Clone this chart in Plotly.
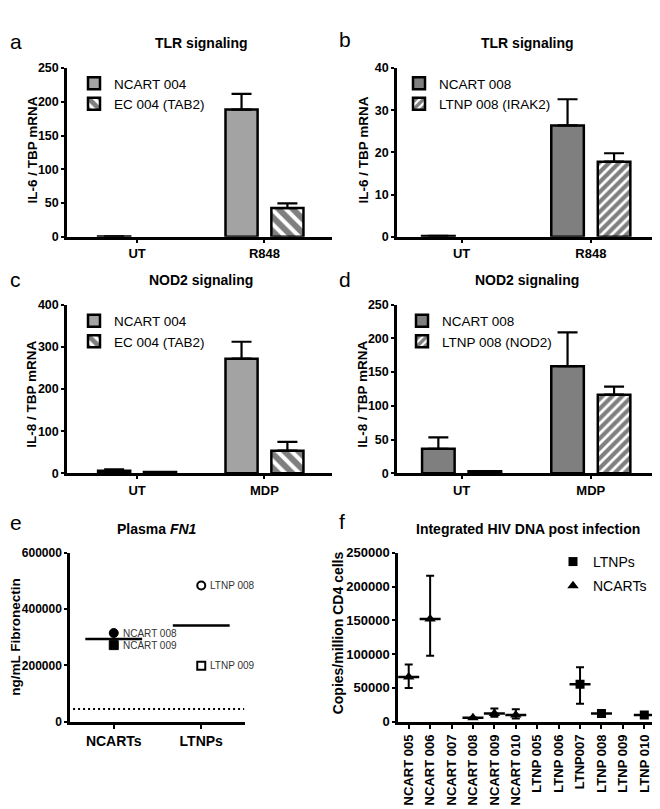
import numpy as np
import plotly.graph_objects as go

W, H = 660, 809
OFF = 8  # page body margin offset of the figure in the browser
FONT = "Liberation Sans, Arial, sans-serif"

# ---------------- data ----------------
# Panel a: TLR signaling, IL-6
a_cats = ["UT", "R848"]
a_ncart = [0.5, 188.5]
a_ncart_err = [0.0, 23.2]
a_ec = [None, 42.6]
a_ec_err = [0.0, 6.8]

# Panel b: TLR signaling, IL-6
b_cats = ["UT", "R848"]
b_ncart = [0.2, 26.4]
b_ncart_err = [0.0, 6.2]
b_ltnp = [None, 17.8]
b_ltnp_err = [0.0, 2.0]

# Panel c: NOD2 signaling, IL-8
c_cats = ["UT", "MDP"]
c_ncart = [6.2, 271.8]
c_ncart_err = [3.0, 40.0]
c_ec = [3.1, 53.6]
c_ec_err = [0.0, 21.0]

# Panel d: NOD2 signaling, IL-8
d_cats = ["UT", "MDP"]
d_ncart = [36.4, 158.7]
d_ncart_err = [17.0, 50.0]
d_ltnp = [3.0, 116.5]
d_ltnp_err = [0.0, 12.0]

# Panel e: Plasma FN1
e_cats = ["NCARTs", "LTNPs"]
e_ncart_names = ["NCART 008", "NCART 009"]
e_ncart_vals = [315000, 272000]
e_ltnp_names = ["LTNP 008", "LTNP 009"]
e_ltnp_vals = [484000, 199000]
e_detection_limit = 45000

# Panel f: Integrated HIV DNA post infection
f_cats = ["NCART 005", "NCART 006", "NCART 007", "NCART 008", "NCART 009", "NCART 010",
          "LTNP 005", "LTNP 006", "LTNP007", "LTNP 008", "LTNP 009", "LTNP 010"]
f_ncart_vals = [66100, 152000, None, 5800, 12000, 9700]
f_ncart_up = [18400, 64200, None, 0, 7300, 8600]
f_ncart_dn = [16400, 54500, None, 0, 4800, 4900]
f_ltnp_vals = [None, None, 55500, 12000, None, 9700]
f_ltnp_up = [None, None, 25100, 0, None, 0]
f_ltnp_dn = [None, None, 29000, 0, None, 0]


def fx(p):
    return (p - OFF) / W


def fy(p):
    return 1 - (p - OFF) / H


fig = go.Figure()

LIGHT = "#a3a3a3"
DARK = "#7f7f7f"


def add_bars(xa, ya, cats, v1, e1, n1, c1, v2, e2, n2, shape, psize, leg):
    xs = list(range(len(cats)))
    fig.add_trace(go.Bar(
        x=xs, y=v1, name=n1, xaxis=xa, yaxis=ya, legend=leg,
        marker=dict(color=c1, line=dict(color="black", width=2.5)),
        error_y=dict(type="data", symmetric=False, array=e1, arrayminus=[0] * len(e1),
                     color="black", thickness=2.2, width=10),
    ))
    fig.add_trace(go.Bar(
        x=xs, y=v2, name=n2, xaxis=xa, yaxis=ya, legend=leg,
        marker=dict(color="white", line=dict(color="black", width=2.5),
                    pattern=dict(shape=shape, size=psize, solidity=0.6,
                                 fgcolor="black", bgcolor="white")),
        error_y=dict(type="data", symmetric=False, array=e2, arrayminus=[0] * len(e2),
                     color="black", thickness=2.2, width=10),
    ))


add_bars("x", "y", a_cats, a_ncart, a_ncart_err, "NCART 004", LIGHT,
         a_ec, a_ec_err, "EC 004 (TAB2)", "\\", 10, "legend")
add_bars("x2", "y2", b_cats, b_ncart, b_ncart_err, "NCART 008", DARK,
         b_ltnp, b_ltnp_err, "LTNP 008 (IRAK2)", "/", 7, "legend2")
add_bars("x3", "y3", c_cats, c_ncart, c_ncart_err, "NCART 004", LIGHT,
         c_ec, c_ec_err, "EC 004 (TAB2)", "\\", 10, "legend3")
add_bars("x4", "y4", d_cats, d_ncart, d_ncart_err, "NCART 008", DARK,
         d_ltnp, d_ltnp_err, "LTNP 008 (NOD2)", "/", 7, "legend4")

# ---- panel e ----
e_sym_ncart = ["circle", "square"]
e_sym_ltnp = ["circle-open", "square-open"]
for name, val, sym in zip(e_ncart_names, e_ncart_vals, e_sym_ncart):
    fig.add_trace(go.Scatter(x=[0], y=[val], mode="markers", xaxis="x5", yaxis="y5",
                             showlegend=False,
                             marker=dict(symbol=sym, size=9, color="black",
                                         line=dict(color="black", width=1))))
for name, val, sym in zip(e_ltnp_names, e_ltnp_vals, e_sym_ltnp):
    fig.add_trace(go.Scatter(x=[1], y=[val], mode="markers", xaxis="x5", yaxis="y5",
                             showlegend=False,
                             marker=dict(symbol=sym, size=8, color="black",
                                         line=dict(color="black", width=2))))
half = 0.325
for i, vals in enumerate([e_ncart_vals, e_ltnp_vals]):
    m = float(np.mean(vals))
    fig.add_trace(go.Scatter(x=[i - half, i + half], y=[m, m], mode="lines",
                             xaxis="x5", yaxis="y5", showlegend=False,
                             line=dict(color="black", width=2.4)))
fig.add_trace(go.Scatter(x=[-0.465, 1.49], y=[e_detection_limit] * 2, mode="lines",
                         xaxis="x5", yaxis="y5", showlegend=False,
                         line=dict(color="black", width=2, dash="2px,3px")))

# ---- panel f ----
ncart_x = list(range(0, 6))
ltnp_x = list(range(6, 12))
fig.add_trace(go.Scatter(
    x=ltnp_x, y=f_ltnp_vals, mode="markers", name="LTNPs", xaxis="x6", yaxis="y6",
    legend="legend5", legendgroup="l", legendrank=1,
    marker=dict(symbol="square", size=9, color="black"),
    error_y=dict(type="data", symmetric=False, array=f_ltnp_up, arrayminus=f_ltnp_dn,
                 color="black", thickness=2, width=4)))
fig.add_trace(go.Scatter(
    x=ncart_x, y=f_ncart_vals, mode="markers", name="NCARTs", xaxis="x6", yaxis="y6",
    legend="legend5", legendgroup="n", legendrank=2,
    marker=dict(symbol="triangle-up", size=10, color="black"),
    error_y=dict(type="data", symmetric=False, array=f_ncart_up, arrayminus=f_ncart_dn,
                 color="black", thickness=2, width=4)))
fig.add_trace(go.Scatter(
    x=ncart_x + ltnp_x, y=f_ncart_vals + f_ltnp_vals, mode="markers", showlegend=False,
    xaxis="x6", yaxis="y6",
    marker=dict(symbol="line-ew", size=15, color="black", line=dict(color="black", width=2.5))))


# ---------------- axes ----------------
def yax(dom_top, dom_bot, x_anchor, rng, dtick, fsize=12.5):
    return dict(domain=[fy(dom_bot), fy(dom_top)], anchor=x_anchor, range=rng,
                tickmode="linear", tick0=0, dtick=dtick, tickformat="d",
                exponentformat="none",
                showline=True, linewidth=2.5, linecolor="black", mirror=False,
                ticks="outside", ticklen=3, tickwidth=2, tickcolor="black",
                showgrid=False, zeroline=False,
                tickfont=dict(family=FONT, size=fsize, color="black", weight="bold"))


def xax(left, right, y_anchor, rng, labels, ticklen=3, angle=0, fsize=13):
    return dict(domain=[fx(left), fx(right)], anchor=y_anchor, range=rng,
                tickmode="array", tickvals=list(range(len(labels))), ticktext=labels,
                showline=True, linewidth=2.5, linecolor="black",
                ticks="outside", ticklen=ticklen, tickwidth=2, tickcolor="black",
                showgrid=False, zeroline=False, tickangle=angle,
                tickfont=dict(family=FONT, size=fsize, color="black", weight="bold"))


layout = dict(
    width=W, height=H, margin=dict(l=0, r=0, t=0, b=0),
    paper_bgcolor="white", plot_bgcolor="white",
    barmode="group", bargap=0.28, bargroupgap=0.3,
    font=dict(family=FONT, color="black"),
    xaxis=xax(67, 332, "y", [-0.55, 1.53], a_cats),
    yaxis=yax(62, 234, "x", [0, 250], 50),
    xaxis2=xax(397, 658, "y2", [-0.5, 1.52], b_cats),
    yaxis2=yax(62, 234, "x2", [0, 40], 10),
    xaxis3=xax(67, 332, "y3", [-0.55, 1.53], c_cats),
    yaxis3=yax(303, 475, "x3", [0, 400], 100),
    xaxis4=xax(397, 658, "y4", [-0.5, 1.52], d_cats),
    yaxis4=yax(303, 475, "x4", [0, 250], 50),
    xaxis5=xax(70, 245, "y5", [-0.5, 1.5], e_cats, ticklen=5, fsize=14),
    yaxis5=yax(556, 728, "x5", [0, 600000], 200000, fsize=12),
    xaxis6=xax(398, 655, "y6", [-0.5, 11.5], f_cats, ticklen=5, angle=-90, fsize=13),
    yaxis6=yax(556, 728, "x6", [0, 250000], 50000, fsize=13),
)

leg_common = dict(xanchor="left", yanchor="top", bgcolor="rgba(0,0,0,0)",
                  font=dict(family=FONT, size=13.5, color="black"),
                  tracegroupgap=0, itemclick=False)
layout["legend"] = dict(x=fx(74), y=fy(62), **leg_common)
layout["legend2"] = dict(x=fx(399), y=fy(62), **leg_common)
layout["legend3"] = dict(x=fx(74), y=fy(304), **leg_common)
layout["legend4"] = dict(x=fx(402), y=fy(304), **leg_common)
layout["legend5"] = dict(x=fx(553), y=fy(549), xanchor="left", yanchor="top",
                         bgcolor="rgba(0,0,0,0)", traceorder="grouped", tracegroupgap=3,
                         font=dict(family=FONT, size=14, color="black"))

ann = []


def text(x, y, s, size, bold=False, angle=0, xanchor="center", color="black"):
    ann.append(dict(x=fx(x), y=fy(y), xref="paper", yref="paper", text=s,
                    showarrow=False, xanchor=xanchor, yanchor="middle", textangle=angle,
                    font=dict(family=FONT, size=size, color=color,
                              weight="bold" if bold else "normal")))


# panel letters
for lab, x, y in [("a", 8, 35), ("b", 337, 33), ("c", 8, 278), ("d", 337, 277),
                  ("e", 8, 525), ("f", 337, 524)]:
    text(x, y, lab, 21, xanchor="left")

# titles
text(201, 37, "TLR signaling", 14, bold=True)
text(527, 37, "TLR signaling", 14, bold=True)
text(201, 278, "NOD2 signaling", 14, bold=True)
text(527, 278, "NOD2 signaling", 14, bold=True)
text(157, 532, "Plasma <i>FN1</i>", 14, bold=True)
text(528, 532, "Integrated HIV DNA post infection", 14, bold=True)

# y axis titles
text(32, 146, "IL-6 / TBP mRNA", 13.5, bold=True, angle=-90)
text(363, 146, "IL-6 / TBP mRNA", 13.5, bold=True, angle=-90)
text(32, 395, "IL-8 / TBP mRNA", 13.5, bold=True, angle=-90)
text(363, 395, "IL-8 / TBP mRNA", 13.5, bold=True, angle=-90)
text(15.5, 642, "ng/mL Fibronectin", 13.5, bold=True, angle=-90)
text(338, 638, "Copies/million CD4 cells", 14, bold=True, angle=-90)

# point labels in panel e
for name, val in zip(e_ncart_names, e_ncart_vals):
    ann.append(dict(x=0, y=val, xref="x5", yref="y5", text=name, showarrow=False,
                    xanchor="left", yanchor="middle", xshift=7,
                    font=dict(family=FONT, size=10, color="#333333")))
for name, val in zip(e_ltnp_names, e_ltnp_vals):
    ann.append(dict(x=1, y=val, xref="x5", yref="y5", text=name, showarrow=False,
                    xanchor="left", yanchor="middle", xshift=7,
                    font=dict(family=FONT, size=10, color="#333333")))

layout["annotations"] = ann
fig.update_layout(**layout)
fig.write_html("out.html")
